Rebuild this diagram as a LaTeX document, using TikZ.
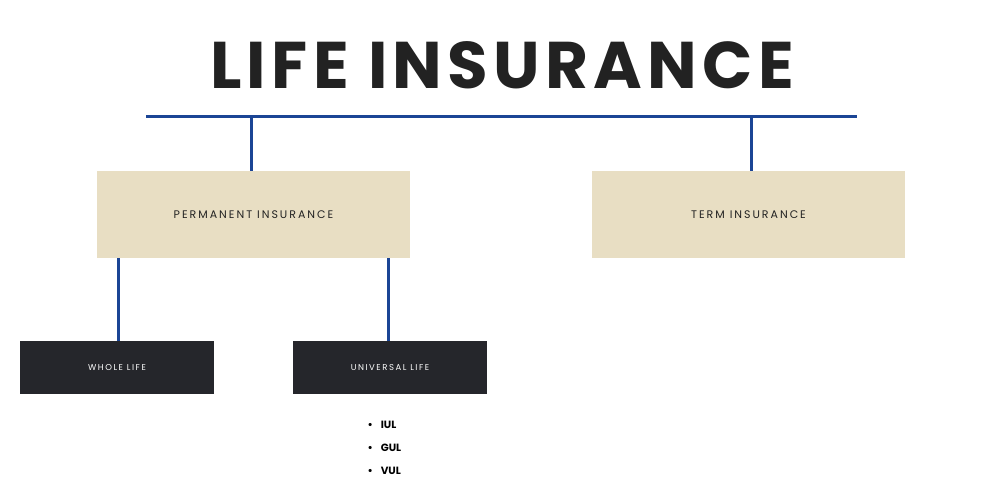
\documentclass[tikz,border=0pt]{standalone}
\usepackage{fontspec}
\setmainfont{Poppins}
\newfontfamily\titlefont[LetterSpace=8]{Poppins}
\newfontfamily\boxfont[LetterSpace=18]{Poppins}
\definecolor{lineblue}{HTML}{1B4595}
\definecolor{beige}{HTML}{E8DEC3}
\definecolor{darkbox}{HTML}{25262B}
\definecolor{ink}{HTML}{222222}
\begin{document}
\begin{tikzpicture}[x=1pt,y=-1pt,
  conn/.style={draw=lineblue,line width=3pt},
  lightbox/.style={fill=beige,draw=none,minimum width=313pt,minimum height=87pt,font=\boxfont\fontsize{11}{13}\selectfont,text=ink},
  darkbx/.style={fill=darkbox,draw=none,minimum width=194pt,minimum height=53pt,font=\boxfont\fontsize{8.5}{10}\selectfont,text=white},
  bul/.style={anchor=west,font=\fontsize{10.5}{12}\selectfont\bfseries,text=black}]
\useasboundingbox (0,0) rectangle (1000,500);
\node[font=\titlefont\fontsize{66}{70}\selectfont\bfseries,text=ink] (title) at (502,65) {LIFE INSURANCE};
\coordinate (hl) at (146,117);
\coordinate (hr) at (857,117);
\draw[conn] (hl) -- (hr);
\node[lightbox] (perm) at (253.5,214.5) {PERMANENT INSURANCE};
\node[lightbox] (term) at (748.5,214.5) {TERM INSURANCE};
\node[darkbx] (whole) at (117,367.5) {WHOLE LIFE};
\node[darkbx] (univ) at (390,367.5) {UNIVERSAL LIFE};
\draw[conn] (251,117) -- (perm.north -| 251,0);
\draw[conn] (751,117) -- (term.north -| 751,0);
\draw[conn] (perm.south -| 118,0) -- (whole.north -| 118,0);
\draw[conn] (perm.south -| 388,0) -- (univ.north -| 388,0);
\node[bul] (iul) at (364,425) {\textbullet\hspace{8pt}IUL};
\node[bul] (gul) at (364,448) {\textbullet\hspace{8pt}GUL};
\node[bul] (vul) at (364,471) {\textbullet\hspace{8pt}VUL};
\end{tikzpicture}
\end{document}
